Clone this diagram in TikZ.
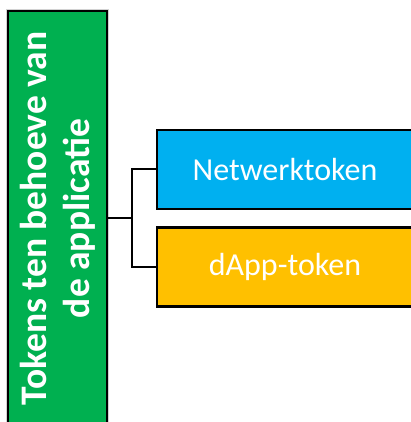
\documentclass[tikz,border=0pt]{standalone}
\usepackage{fontspec}
\setmainfont{Carlito}
\definecolor{offgreen}{HTML}{00B050}
\definecolor{offblue}{HTML}{00B0F0}
\definecolor{offyellow}{HTML}{FFC000}
\tikzset{
  mainbox/.style={draw=black, line width=2.5pt, fill=offgreen, text=white,
    rotate=90, align=center, inner sep=0pt,
    minimum width=415pt, minimum height=99pt,
    font=\fontsize{37.5}{43}\selectfont\bfseries},
  subbox/.style={draw=black, line width=2.5pt, text=white, inner sep=0pt,
    minimum width=256pt, minimum height=79pt,
    font=\fontsize{32}{38}\selectfont},
  conn/.style={draw=black, line width=2pt},
}
\begin{document}
\begin{tikzpicture}[x=1pt,y=1pt]
\useasboundingbox (0,0) rectangle (411,422);
\clip (0,0) rectangle (411,422);
\fill[white] (0,0) rectangle (411,422);
\draw[gray!35, line width=1pt] (6.5,-10) rectangle (108.5,412.5);
\node[mainbox] (g) at (57.5,203.5) {Tokens ten behoeve van\\de applicatie};
\node[subbox, fill=offblue] (b) at (285,252.7) {Netwerktoken};
\node[subbox, fill=offyellow] (y) at (285,155) {dApp-token};
\draw[conn] (g.south) -- ++(24,0) coordinate (j);
\draw[conn] (b.west) -| (j) |- (y.west);
\end{tikzpicture}
\end{document}
